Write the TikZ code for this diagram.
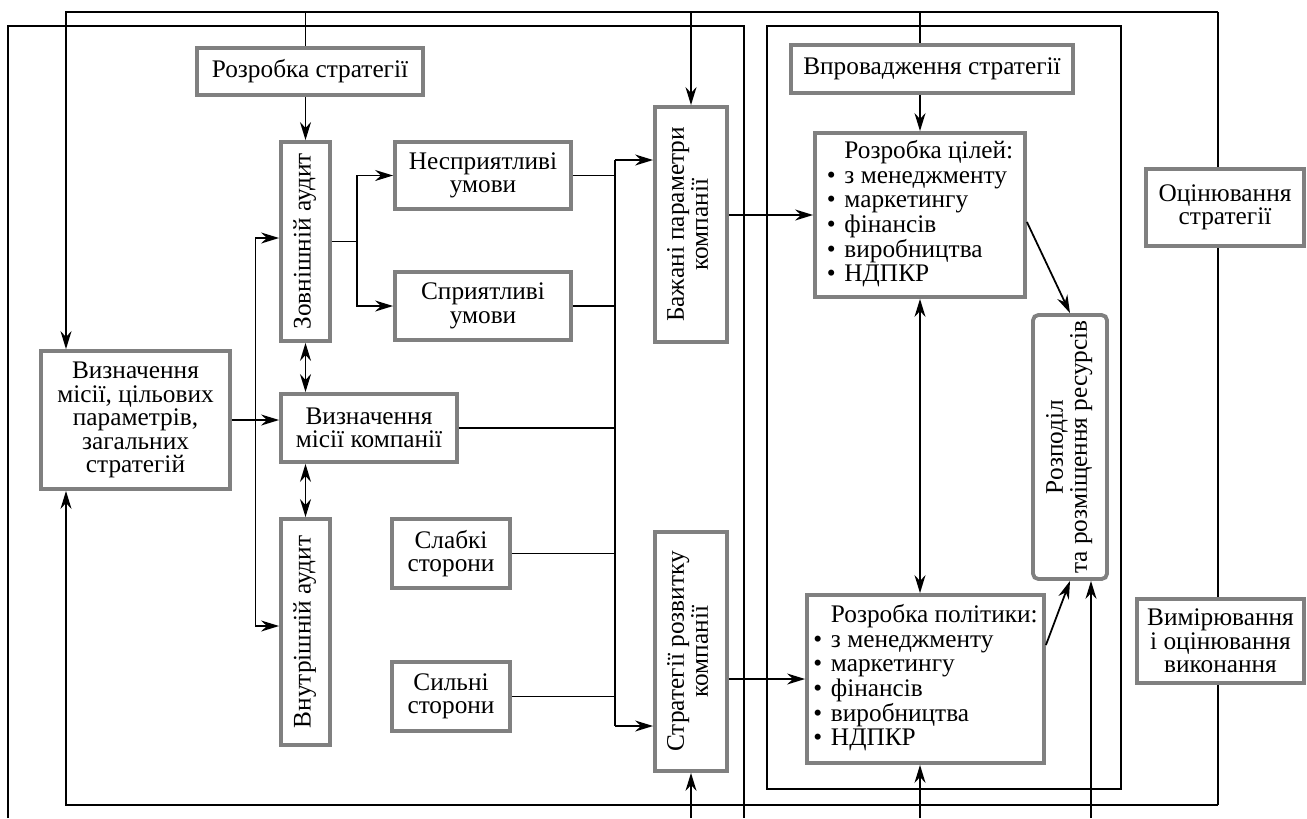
\documentclass[tikz,border=0pt]{standalone}
\usepackage{fontspec}
\setmainfont{Liberation Serif}
\usetikzlibrary{arrows.meta,calc}
\definecolor{boxgray}{RGB}{128,128,128}
\tikzset{
  box/.style={draw=boxgray, line width=2.2pt, fill=white, inner sep=1pt, align=center,
    font=\fontsize{14.4}{13.4}\selectfont},
  lbox/.style={box, font=\fontsize{14.4}{13.8}\selectfont},
  arr/.style={-{Stealth[length=3.6mm,width=2.2mm]}},
  arr2/.style={{Stealth[length=3.6mm,width=2.2mm]}-{Stealth[length=3.6mm,width=2.2mm]}},
}
\newcommand{\vtext}[1]{\rotatebox{90}{\begin{tabular}{@{}c@{}}#1\end{tabular}}}

\begin{document}
\begin{tikzpicture}[x=0.02cm, y=-0.02cm, line width=1pt]
		%%%%% START %%%%%
		\useasboundingbox (0,0) rectangle (1307,818);

		% panels
		\draw (8,818) -- (8,26) -- (744,26) -- (744,818);
		\draw (767,26) rectangle (1121,789);

		% formulation
		\node[box, minimum width=4.52cm, minimum height=0.94cm] (strat) at (310,71.5) {Розробка стратегії};
		\node[box, minimum width=0.98cm, minimum height=3.98cm] (zaud) at (305.5,241.5) {\vtext{Зовнішній аудит}};
		\node[box, minimum width=3.52cm, minimum height=1.34cm] (nesp) at (483,175.5) {Несприятливі\\умови};
		\node[box, minimum width=3.52cm, minimum height=1.36cm] (sprl) at (483,306) {Сприятливі\\умови};
		\node[box, minimum width=3.78cm, minimum height=2.76cm] (mis) at (135.5,420) {Визначення\\місії, цільових\\параметрів,\\загальних\\стратегій};
		\node[box, minimum width=3.52cm, minimum height=1.36cm] (miskomp) at (369,428) {Визначення\\місії компанії};
		\node[box, minimum width=0.98cm, minimum height=4.52cm] (vaud) at (305.5,632) {\vtext{Внутрішній аудит}};
		\node[box, minimum width=2.36cm, minimum height=1.38cm] (slab) at (451,553.5) {Слабкі\\сторони};
		\node[box, minimum width=2.36cm, minimum height=1.38cm] (sil) at (451,696.5) {Сильні\\сторони};
		\node[box, minimum width=1.44cm, minimum height=4.70cm] (baz) at (691,224.5) {\vtext{Бажані параметри\\компанії}};
		\node[box, minimum width=1.44cm, minimum height=4.78cm] (strrozv) at (691,651.5) {\vtext{Стратегії розвитку\\компанії}};

		% implementation
		\node[box, minimum width=5.64cm, minimum height=0.96cm] (vpr) at (932,69) {Впровадження стратегії};
		\node[lbox, minimum width=4.20cm, minimum height=3.28cm] (cil) at (920,215) {\begin{tabular}{@{}l@{\hspace{5pt}}l@{}}
			& Розробка цілей:\\ \textbullet & з менеджменту\\ \textbullet & маркетингу\\
			\textbullet & фінансів\\ \textbullet & виробництва\\ \textbullet & НДПКР\end{tabular}};
		\node[box, rounded corners=3pt, minimum width=1.48cm, minimum height=5.28cm] (rozp) at (1070,447) {\vtext{Розподіл\\та розміщення ресурсів}};
		\node[lbox, minimum width=4.74cm, minimum height=3.36cm] (pol) at (925.5,679) {\begin{tabular}{@{}l@{\hspace{5pt}}l@{}}
			& Розробка політики:\\ \textbullet & з менеджменту\\ \textbullet & маркетингу\\
			\textbullet & фінансів\\ \textbullet & виробництва\\ \textbullet & НДПКР\end{tabular}};

		% evaluation
		\node[box, minimum width=3.16cm, minimum height=1.54cm] (ocin) at (1225,207.5) {Оцінювання\\стратегії};
		\node[box, minimum width=3.34cm, minimum height=1.68cm] (vym) at (1220.5,641) {Вимірювання\\і оцінювання\\виконання};

		% feedback loop
		\coordinate (tl) at (66,12);
		\coordinate (tr) at (1218,12);
		\coordinate (bl) at (66,805);
		\coordinate (br) at (1218,805);
		\coordinate (bot) at (0,818);
		\draw[arr] (tr) -- (tl) -- (mis.north -| tl);
		\draw[arr] (br) -- (bl) -- (mis.south -| bl);
		\draw (tr) -- (ocin.north -| tr);
		\draw (ocin.south -| tr) -- (vym.north -| tr);
		\draw (vym.south -| tr) -- (br);
		\draw (zaud.north |- tl) -- (zaud.north |- strat.north);
		\draw[arr] (baz.north |- tl) -- (baz.north);
		\draw (cil.north |- tl) -- (cil.north |- vpr.north);

		% formulation links
		\draw[arr] (zaud.north |- strat.south) -- (zaud.north);
		\draw[arr] (mis.east) -- (mis.east -| miskomp.west);
		\coordinate (sp) at ($(mis.east)!0.5!(mis.east -| miskomp.west)$);
		\draw[arr] (sp) |- ([yshift=0.07cm]zaud.west);
		\draw[arr] (sp) |- ([yshift=0.12cm]vaud.west);
		\draw[arr] (zaud.east) -- ++(25,0) |- (nesp.west);
		\draw[arr] (zaud.east) -- ++(25,0) |- (sprl.west);
		\draw[arr2] (zaud.south) -- (miskomp.north -| zaud.south);
		\draw[arr2] (miskomp.south -| vaud.north) -- (vaud.north);

		% bus
		\coordinate (bt) at (615,160);
		\coordinate (bb) at (615,726);
		\draw (bt) -- (bb);
		\draw (nesp.east) -- (nesp.east -| bt);
		\draw (sprl.east) -- (sprl.east -| bt);
		\draw (miskomp.east) -- (miskomp.east -| bt);
		\draw (slab.east) -- (slab.east -| bt);
		\draw (sil.east) -- (sil.east -| bt);
		\draw[arr] (bt) -- (bt -| baz.west);
		\draw[arr] (bb) -- (bb -| strrozv.west);

		% implementation links
		\draw[arr] (baz.east |- cil.west) -- (cil.west);
		\draw[arr] (strrozv.east |- pol.west) -- (pol.west);
		\draw[arr] (cil.north |- vpr.south) -- (cil.north);
		\draw[arr2] (cil.south) -- (pol.north -| cil.south);
		\draw[arr] ([yshift=-0.14cm]cil.east) -- (rozp.north);
		\draw[arr] ([yshift=0.68cm]pol.east) -- (rozp.south);

		% from below
		\draw[arr] (strrozv.south |- bot) -- (strrozv.south);
		\draw[arr] (cil.south |- bot) -- (pol.south -| cil.south);
		\draw[arr] ([xshift=0.42cm]rozp.south |- bot) -- ([xshift=0.42cm]rozp.south);

		%%%%% END %%%%%
	\end{tikzpicture}
\end{document}
